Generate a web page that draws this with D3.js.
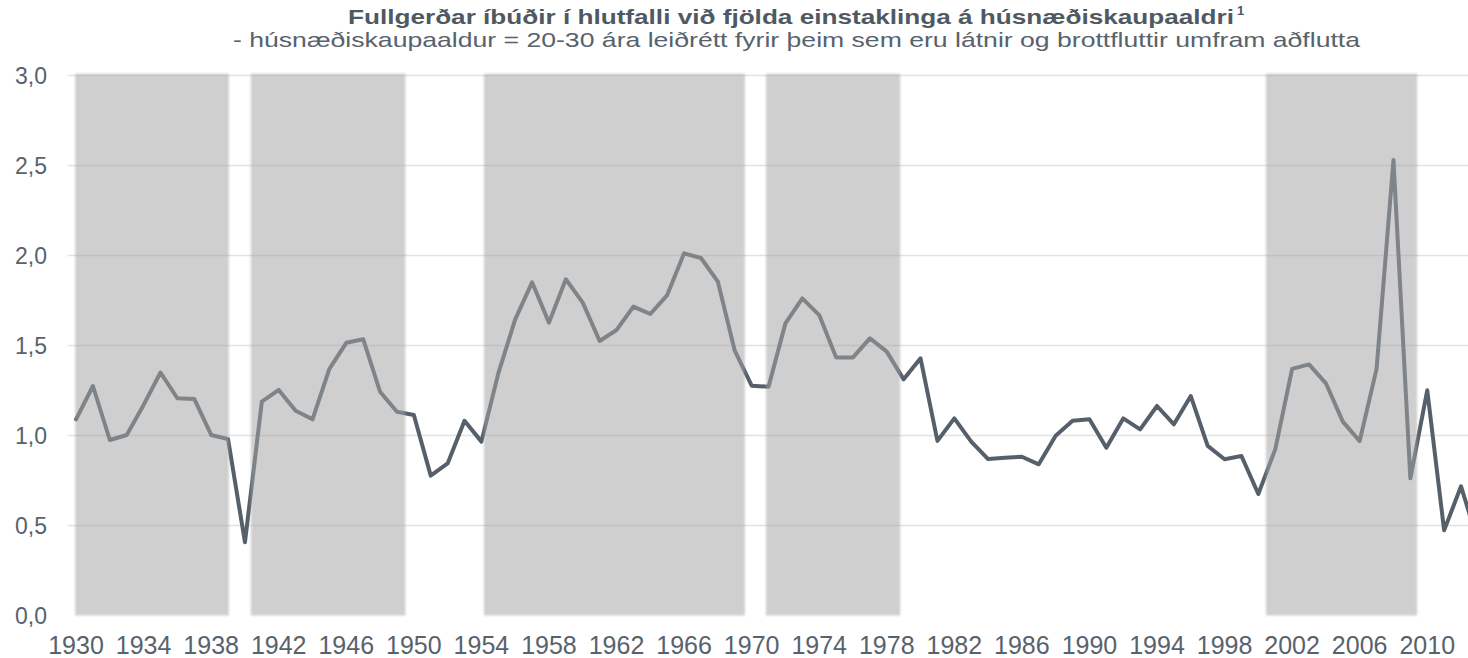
<!DOCTYPE html>
<html>
<head>
<meta charset="utf-8">
<script src="https://cdnjs.cloudflare.com/ajax/libs/d3/7.8.5/d3.min.js"></script>
<style>
  body { margin: 0; background: #fff; }
  svg { display: block; font-family: "Liberation Sans", Arial, sans-serif; }
</style>
</head>
<body>
<div id="chart"></div>
<script>
// data
var years = d3.range(1930, 2014);
var ratio = [
  1.09, 1.275, 0.975, 1.003, 1.17, 1.35, 1.207, 1.203, 1.003, 0.98,   // 1930-1939
  0.407, 1.188, 1.253, 1.138, 1.09, 1.37, 1.515, 1.535, 1.243, 1.132, // 1940-1949
  1.114, 0.777, 0.845, 1.082, 0.966, 1.345, 1.645, 1.851, 1.627, 1.868, // 1950-1959
  1.738, 1.525, 1.586, 1.716, 1.675, 1.78, 2.012, 1.986, 1.855, 1.471, // 1960-1969
  1.277, 1.271, 1.623, 1.762, 1.669, 1.434, 1.434, 1.54, 1.466, 1.312, // 1970-1979
  1.429, 0.97, 1.095, 0.966, 0.869, 0.877, 0.882, 0.84, 0.999, 1.082,  // 1980-1989
  1.09, 0.932, 1.095, 1.034, 1.164, 1.062, 1.219, 0.942, 0.868, 0.886, // 1990-1999
  0.675, 0.923, 1.37, 1.395, 1.29, 1.077, 0.969, 1.37, 2.53, 0.762,    // 2000-2009
  1.251, 0.473, 0.718, 0.41                                            // 2010-2013
];
// shaded periods (in years)
var periodStart = [1929.95, 1940.35, 1954.15, 1970.85, 2000.45];
var periodEnd   = [1939.05, 1949.5, 1969.6, 1978.8, 2009.4];
var yTicks = [0, 0.5, 1, 1.5, 2, 2.5, 3];
var xTicks = d3.range(1930, 2011, 4);

var title = "Fullgerðar íbúðir í hlutfalli við fjölda einstaklinga á húsnæðiskaupaaldri";
var subtitle = "- húsnæðiskaupaaldur = 20-30 ára leiðrétt fyrir þeim sem eru látnir og brottfluttir umfram aðflutta";

var width = 1468, height = 658;
var left = 67.6, step = 16.89;
var textColor = "#58626c";

var isl = d3.formatLocale({decimal: ",", thousands: ".", grouping: [3], currency: ["", " kr."]});
var fmt = isl.format(".1f");

var x = d3.scaleLinear()
  .domain([1929.5, 2013.5])
  .range([left, left + 84 * step]);

var y = d3.scaleLinear()
  .domain([0, 3])
  .range([615.5, 75.5]);

var svg = d3.select("#chart").append("svg")
  .attr("width", width)
  .attr("height", height);

var defs = svg.append("defs");
var soft = defs.append("filter")
  .attr("id", "soft")
  .attr("x", "-5%").attr("y", "-2%")
  .attr("width", "110%").attr("height", "104%");
soft.append("feGaussianBlur")
  .attr("stdDeviation", 1.2);

var shadow = defs.append("filter")
  .attr("id", "shadow")
  .attr("x", "-1%").attr("y", "-300%")
  .attr("width", "102%").attr("height", "700%");
shadow.append("feDropShadow")
  .attr("dx", 0).attr("dy", 2)
  .attr("stdDeviation", 1.5)
  .attr("flood-color", "#000")
  .attr("flood-opacity", 0.2);

// titles
svg.append("text")
  .attr("x", 348)
  .attr("y", 24)
  .attr("fill", "#4f5963")
  .attr("font-size", "21px")
  .attr("font-weight", "bold")
  .attr("textLength", 886)
  .attr("lengthAdjust", "spacingAndGlyphs")
  .text(title);

svg.append("text")
  .attr("x", 1237)
  .attr("y", 15)
  .attr("fill", "#4f5963")
  .attr("font-size", "13px")
  .attr("font-weight", "bold")
  .text("1");

svg.append("text")
  .attr("x", 233)
  .attr("y", 47)
  .attr("fill", textColor)
  .attr("font-size", "21px")
  .attr("textLength", 1127)
  .attr("lengthAdjust", "spacingAndGlyphs")
  .text(subtitle);

// gridlines
svg.append("g")
  .selectAll("line")
  .data(yTicks.filter(function(d) { return d > 0; }))
  .enter().append("line")
  .attr("x1", left)
  .attr("x2", width)
  .attr("y1", function(d) { return y(d); })
  .attr("y2", function(d) { return y(d); })
  .attr("stroke", "#e2e2e2")
  .attr("stroke-width", 1.5);

// y labels
svg.append("g")
  .selectAll("text")
  .data(yTicks)
  .enter().append("text")
  .attr("x", 47)
  .attr("y", function(d) { return y(d); })
  .attr("dy", "0.35em")
  .attr("text-anchor", "end")
  .attr("fill", textColor)
  .attr("font-size", "23px")
  .text(function(d) { return fmt(d); });

// the line
var line = d3.line()
  .x(function(d, i) { return x(years[i]); })
  .y(function(d) { return y(d); });

svg.append("path")
  .datum(ratio)
  .attr("d", line)
  .attr("fill", "none")
  .attr("stroke", "#56606b")
  .attr("stroke-width", 4)
  .attr("stroke-linejoin", "round")
  .attr("stroke-linecap", "round");

// shaded periods on top, semi transparent
svg.append("g")
  .attr("filter", "url(#soft)")
  .selectAll("rect")
  .data(periodStart)
  .enter().append("rect")
  .attr("x", function(d) { return x(d); })
  .attr("y", y(3.01))
  .attr("width", function(d, i) { return x(periodEnd[i]) - x(d); })
  .attr("height", y(0) - y(3.01))
  .attr("fill", "#a5a5a5")
  .attr("fill-opacity", 0.53);

// baseline
svg.append("line")
  .attr("x1", left)
  .attr("x2", width)
  .attr("y1", y(0))
  .attr("y2", y(0))
  .attr("stroke", "#a3a3a3")
  .attr("stroke-width", 1.5)
  .attr("filter", "url(#shadow)");

// x labels
svg.append("g")
  .selectAll("text")
  .data(xTicks)
  .enter().append("text")
  .attr("x", function(d) { return x(d); })
  .attr("y", 654)
  .attr("text-anchor", "middle")
  .attr("fill", textColor)
  .attr("font-size", "25px")
  .text(function(d) { return d; });
</script>
</body>
</html>
